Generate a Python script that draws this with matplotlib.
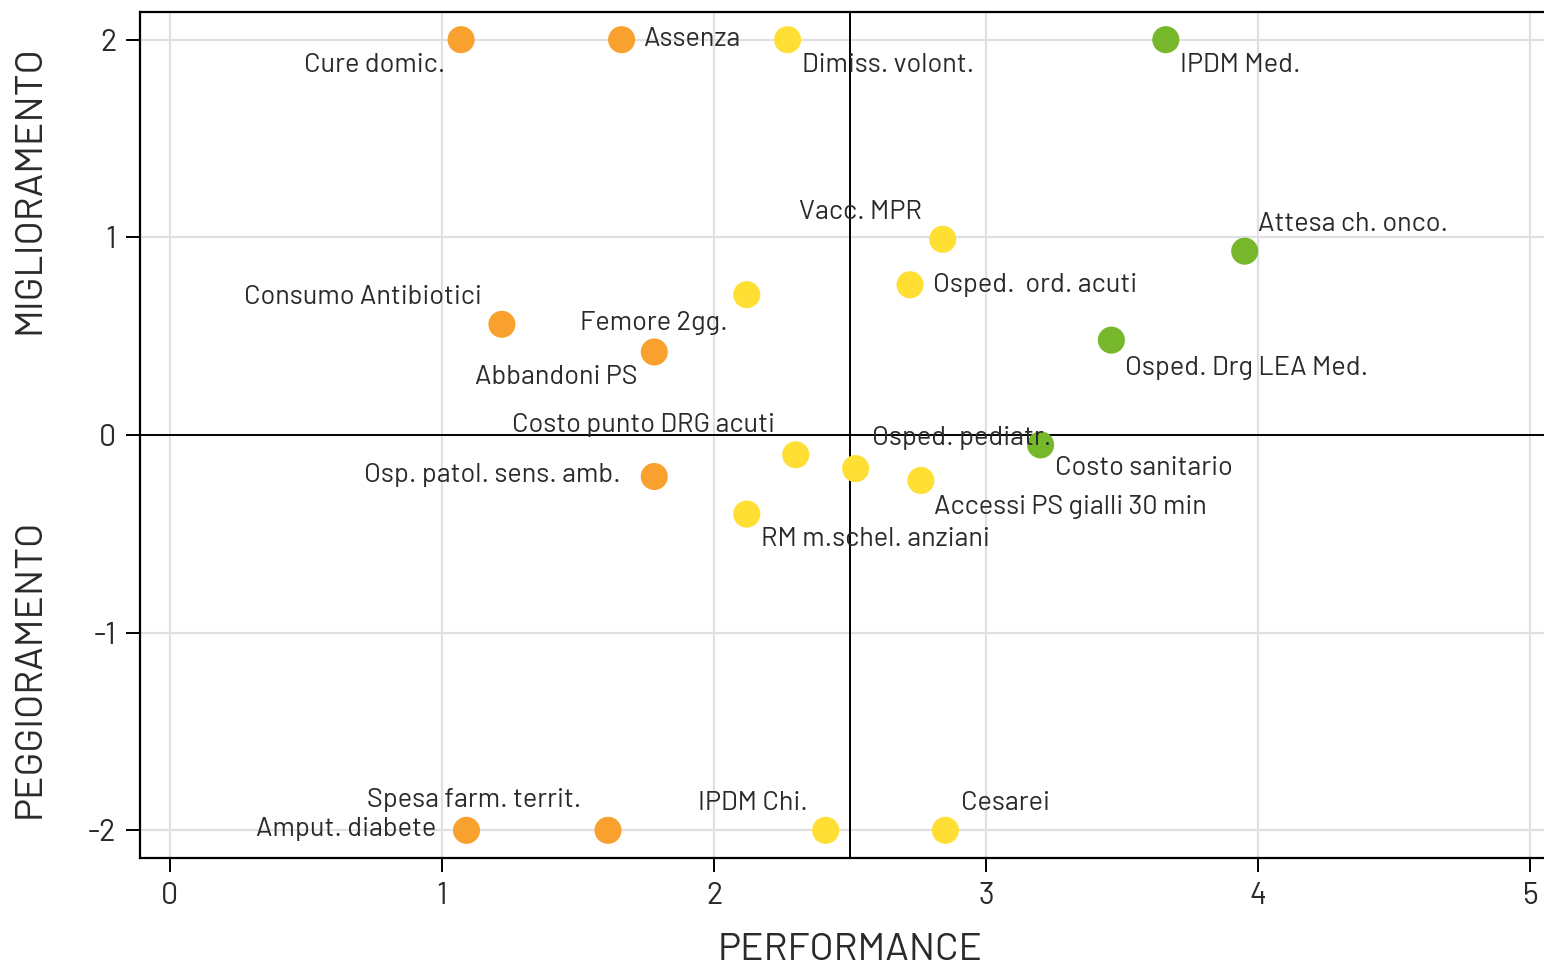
import numpy as np
import matplotlib
matplotlib.use("Agg")
from matplotlib import pyplot as plt
from matplotlib import font_manager

# data
names = ["Cure domic.", "Assenza", "Dimiss. volont.", "IPDM Med.",
         "Vacc. MPR", "Attesa ch. onco.", "Osped.  ord. acuti", "Femore 2gg.",
         "Consumo Antibiotici", "Abbandoni PS", "Osped. Drg LEA Med.",
         "Costo punto DRG acuti", "Osped. pediatr.", "Costo sanitario",
         "Accessi PS gialli 30 min", "Osp. patol. sens. amb.", "RM m.schel. anziani",
         "Amput. diabete", "Spesa farm. territ.", "IPDM Chi.", "Cesarei"]
performance = [1.07, 1.66, 2.27, 3.66,
               2.84, 3.95, 2.72, 2.12,
               1.22, 1.78, 3.46,
               2.30, 2.52, 3.20,
               2.76, 1.78, 2.12,
               1.09, 1.61, 2.41, 2.85]
trend = [2.0, 2.0, 2.0, 2.0,
         0.99, 0.93, 0.76, 0.71,
         0.56, 0.42, 0.48,
         -0.10, -0.17, -0.05,
         -0.23, -0.21, -0.40,
         -2.0, -2.0, -2.0, -2.0]
band = ["o", "o", "y", "g",
        "y", "g", "y", "y",
        "o", "o", "g",
        "y", "y", "g",
        "y", "o", "y",
        "o", "o", "y", "y"]

band_colors = {"o": "#F9A12E", "y": "#FFDF33", "g": "#77B72B"}

# label placement: (dx, dy) in pixels, horizontal alignment
label_pos = {
    "Cure domic.": (-16, -25, "right"),
    "Assenza": (22, 1, "left"),
    "Dimiss. volont.": (14, -25, "left"),
    "IPDM Med.": (14, -25, "left"),
    "Vacc. MPR": (-21, 27, "right"),
    "Attesa ch. onco.": (13, 27, "left"),
    "Osped.  ord. acuti": (23, 0, "left"),
    "Femore 2gg.": (-19, -28, "right"),
    "Consumo Antibiotici": (-20, 27, "right"),
    "Abbandoni PS": (-17, -25, "right"),
    "Osped. Drg LEA Med.": (14, -28, "left"),
    "Costo punto DRG acuti": (-21, 30, "right"),
    "Osped. pediatr.": (16, 31, "left"),
    "Costo sanitario": (14, -23, "left"),
    "Accessi PS gialli 30 min": (13, -27, "left"),
    "Osp. patol. sens. amb.": (-34, 2, "right"),
    "RM m.schel. anziani": (14, -25, "left"),
    "Amput. diabete": (-30, 1, "right"),
    "Spesa farm. territ.": (-27, 30, "right"),
    "IPDM Chi.": (-18, 27, "right"),
    "Cesarei": (16, 27, "left"),
}

available = {f.name for f in font_manager.fontManager.ttflist}
family = "DejaVu Sans"
for cand in ["Barlow", "Barlow Semi Condensed", "Roboto"]:
    if cand in available:
        family = cand
        break
plt.rcParams["font.family"] = [family, "DejaVu Sans"]
plt.rcParams["axes.unicode_minus"] = False

text_color = "#2a2a2a"

fig = plt.figure(figsize=(15.44, 9.66), dpi=100)
ax = fig.add_axes([140 / 1544, 1 - 858 / 966, 1 - 140 / 1544, (858 - 12) / 966])

ax.set_xlim(-0.11, 5.05)
ax.set_ylim(-2.14, 2.14)
ax.set_xticks(range(0, 6))
ax.set_yticks(range(-2, 3))
ax.grid(True, color="#e0e0e0", linewidth=1.6, zorder=0)
ax.set_axisbelow(True)

ax.axvline(2.5, color="black", linewidth=1.4, zorder=1)
ax.axhline(0, color="black", linewidth=1.4, zorder=1)

ax.scatter(performance, trend, s=380, c=[band_colors[b] for b in band],
           edgecolors="none", zorder=3)

for name, x, y in zip(names, performance, trend):
    dx, dy, ha = label_pos[name]
    ax.annotate(name, (x, y), xytext=(dx, dy), textcoords="offset pixels",
                ha=ha, va="center", fontsize=19.5, color=text_color, zorder=4)

for side in ["left", "top", "bottom"]:
    ax.spines[side].set_linewidth(1.6)
    ax.spines[side].set_color("black")
ax.spines["right"].set_visible(False)

ax.tick_params(axis="both", direction="out", length=10, width=1.4, color="black",
               labelsize=22, labelcolor=text_color, pad=7)

fig.text(850 / 1544, 1 - 950 / 966, "PERFORMANCE", ha="center", va="center",
         fontsize=28, color=text_color)
fig.text(30 / 1544, 1 - 190 / 966, "MIGLIORAMENTO", rotation=90, ha="center",
         va="center", fontsize=28, color=text_color)
fig.text(30 / 1544, 1 - 668 / 966, "PEGGIORAMENTO", rotation=90, ha="center",
         va="center", fontsize=28, color=text_color)

fig.savefig("out.png", dpi=100)
